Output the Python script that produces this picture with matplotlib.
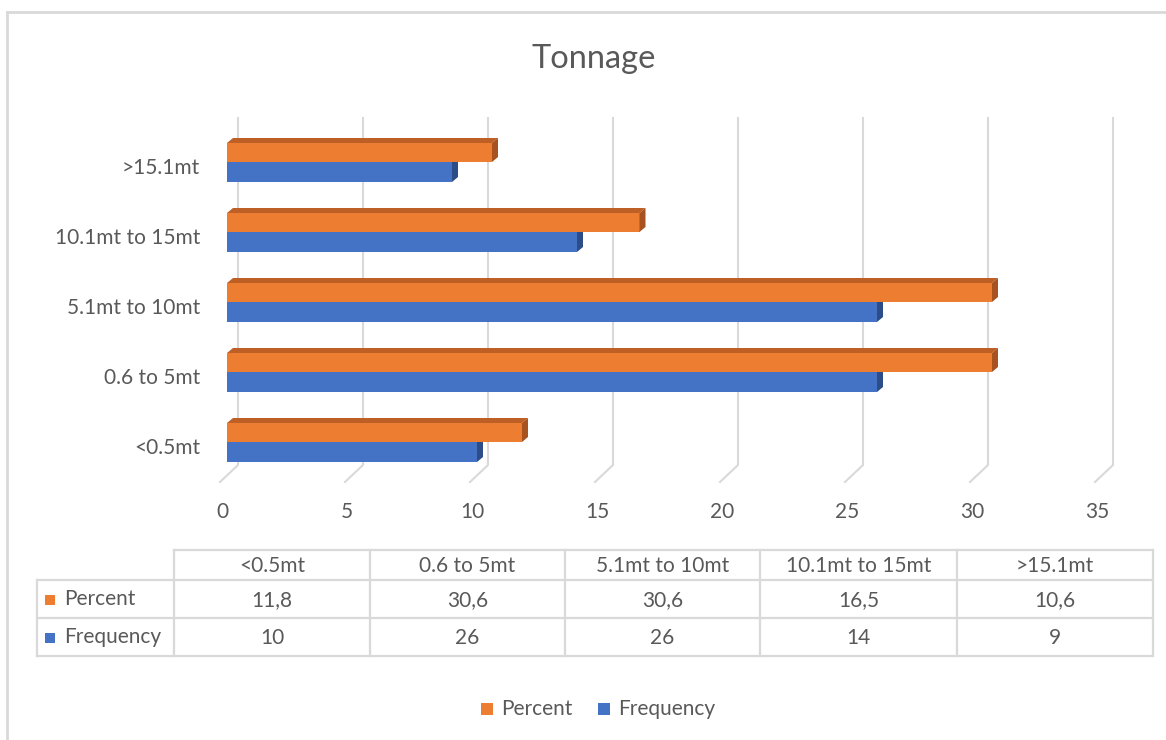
import matplotlib
matplotlib.use("Agg")
import matplotlib.pyplot as plt
from matplotlib.patches import Polygon, Rectangle
from matplotlib.lines import Line2D
from matplotlib.transforms import blended_transform_factory

plt.rcParams['font.family'] = ['Lato', 'DejaVu Sans']

# ---- data ----
categories = ["<0.5mt", "0.6 to 5mt", "5.1mt to 10mt", "10.1mt to 15mt", ">15.1mt"]
percent = [11.8, 30.6, 30.6, 16.5, 10.6]
frequency = [10, 26, 26, 14, 9]
percent_labels = ["11,8", "30,6", "30,6", "16,5", "10,6"]
frequency_labels = ["10", "26", "26", "14", "9"]
x_ticks = [0, 5, 10, 15, 20, 25, 30, 35]
title = "Tonnage"

W, H = 1166, 740
DPI = 100
fig = plt.figure(figsize=(W / DPI, H / DPI), dpi=DPI)
fig.patch.set_facecolor("white")

TXT = "#595959"
GRID = "#D9D9D9"
ORANGE, ORANGE_TOP, ORANGE_SIDE = "#ED7D31", "#BE5F26", "#A8521F"
BLUE, BLUE_TOP, BLUE_SIDE = "#4472C4", "#3A62A8", "#2C4D88"
FS = 15


def fx(x):
    return x / W


def fy(y):
    return 1 - y / H


# chart border
fig.add_artist(Line2D([fx(7), fx(7)], [fy(12), fy(760)], color=GRID, lw=2))
fig.add_artist(Line2D([fx(7), fx(1180)], [fy(12), fy(12)], color=GRID, lw=2))

# title
fig.text(fx(594), fy(59), title, ha="center", va="center", fontsize=23.5, color=TXT)

# ---- plot axes: x=0 -> px 227, 25 px per unit; category i center at px 442-70i ----
PX_PER_X = 25.0
PX_PER_Y = 70.0
ax_left, ax_right = 227, 227 + 35 * PX_PER_X
ax_top, ax_bot = 118, 482
ax = fig.add_axes([fx(ax_left), fy(ax_bot), (ax_right - ax_left) / W, (ax_bot - ax_top) / H])
ax.set_xlim(0, 35)
ax.set_ylim((442 - ax_bot) / PX_PER_Y, (442 - ax_top) / PX_PER_Y)
ax.axis("off")

# gridlines (back wall + floor diagonal)
back_dx = 11 / PX_PER_X
front_dx = -7 / PX_PER_X
y_floor_back = (442 - 465) / PX_PER_Y
y_top = (442 - ax_top) / PX_PER_Y
y_front = (442 - ax_bot) / PX_PER_Y
for v in x_ticks:
    ax.plot([v + back_dx, v + back_dx, v + front_dx], [y_top, y_floor_back, y_front],
            color=GRID, lw=1.5, clip_on=False, solid_joinstyle="miter", zorder=1)

# tick labels
tr = blended_transform_factory(ax.transData, fig.transFigure)
for v in x_ticks:
    ax.text(v - 5 / PX_PER_X, fy(512), str(v), transform=tr, ha="center", va="center",
            fontsize=FS, color=TXT)

# bars with pseudo-3D faces
bh = 20 / PX_PER_Y
ddx = 6 / PX_PER_X
ddy = 5 / PX_PER_Y


def bar3d(v, y0, h, face, top, side):
    y1 = y0 + h
    ax.add_patch(Rectangle((0, y0), v, h, facecolor=face, edgecolor="none", zorder=3))
    ax.add_patch(Polygon([(0, y1), (v, y1), (v + ddx, y1 + ddy), (ddx, y1 + ddy)],
                         closed=True, facecolor=top, edgecolor="none", zorder=3))
    ax.add_patch(Polygon([(v, y0), (v, y1), (v + ddx, y1 + ddy), (v + ddx, y0 + ddy)],
                         closed=True, facecolor=side, edgecolor="none", zorder=3))


for i in range(len(categories)):
    bar3d(frequency[i], i - bh, bh, BLUE, BLUE_TOP, BLUE_SIDE)
    bar3d(percent[i], i, bh * 0.95, ORANGE, ORANGE_TOP, ORANGE_SIDE)

# category labels
trc = blended_transform_factory(fig.transFigure, ax.transData)
for i, c in enumerate(categories):
    ax.text(fx(200), i - 6 / PX_PER_Y, c, transform=trc, ha="right", va="center",
            fontsize=FS, color=TXT)

# ---- data table ----
col_edges = [174, 370, 565, 760, 957, 1153]
row_edges = [550, 580, 618, 656]
left_edge = 37


def hline(x0, x1, y):
    fig.add_artist(Line2D([fx(x0), fx(x1)], [fy(y), fy(y)], color=GRID, lw=1.6))


def vline(x, y0, y1):
    fig.add_artist(Line2D([fx(x), fx(x)], [fy(y0), fy(y1)], color=GRID, lw=1.6))


hline(col_edges[0], col_edges[-1], row_edges[0])
for y in row_edges[1:]:
    hline(left_edge, col_edges[-1], y)
for x in col_edges:
    vline(x, row_edges[0], row_edges[-1])
vline(left_edge, row_edges[1], row_edges[-1])

for j, c in enumerate(categories):
    cx = (col_edges[j] + col_edges[j + 1]) / 2
    fig.text(fx(cx), fy(566), c, ha="center", va="center", fontsize=FS, color=TXT)
    fig.text(fx(cx), fy(600), percent_labels[j], ha="center", va="center", fontsize=FS, color=TXT)
    fig.text(fx(cx), fy(638), frequency_labels[j], ha="center", va="center", fontsize=FS, color=TXT)

for (name, col, yc) in [("Percent", ORANGE, 600), ("Frequency", BLUE, 638)]:
    fig.add_artist(Rectangle((fx(45), fy(yc + 5)), 10 / W, 10 / H, facecolor=col,
                             edgecolor="none", transform=fig.transFigure))
    fig.text(fx(64), fy(yc - 1), name, ha="left", va="center", fontsize=FS, color=TXT)

# ---- legend ----
for (name, col, x0) in [("Percent", ORANGE, 481), ("Frequency", BLUE, 598)]:
    fig.add_artist(Rectangle((fx(x0), fy(715)), 12 / W, 12 / H, facecolor=col,
                             edgecolor="none", transform=fig.transFigure))
    fig.text(fx(x0 + 20), fy(709), name, ha="left", va="center", fontsize=FS, color=TXT)

fig.savefig("out.png", dpi=DPI)
